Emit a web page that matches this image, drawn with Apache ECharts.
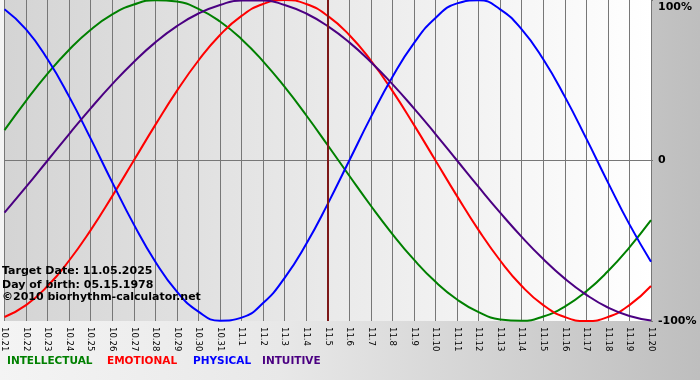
<!DOCTYPE html>
<html>
<head>
<meta charset="utf-8">
<script src="https://cdn.jsdelivr.net/npm/echarts@6/dist/echarts.min.js"></script>
<style>html,body{margin:0;padding:0;}#c{width:700px;height:380px;}</style>
</head>
<body>
<div id="c"></div>
<script>
var dates = ['10.21','10.22','10.23','10.24','10.25','10.26','10.27','10.28','10.29','10.30','10.31',
  '11.1','11.2','11.3','11.4','11.5','11.6','11.7','11.8','11.9','11.10','11.11','11.12','11.13','11.14',
  '11.15','11.16','11.17','11.18','11.19','11.20'];
var intellectual = [18.9,37.2,54.1,69.0,81.5,91.0,97.2,99.9,99.0,94.5,86.6,75.6,61.8,45.8,28.2,9.5,-9.5,-28.2,-45.8,-61.8,-75.6,-86.6,-94.5,-99.0,-99.9,-97.2,-91.0,-81.5,-69.0,-54.1,-37.2];
var emotional = [-97.5,-90.1,-78.2,-62.3,-43.4,-22.2,0,22.2,43.4,62.3,78.2,90.1,97.5,100,97.5,90.1,78.2,62.3,43.4,22.2,0,-22.2,-43.4,-62.3,-78.2,-90.1,-97.5,-100,-97.5,-90.1,-78.2];
var physical = [94.2,81.7,63.1,39.8,13.6,-13.6,-39.8,-63.1,-81.7,-94.2,-99.8,-97.9,-88.8,-73.1,-52.0,-27.0,0,27.0,52.0,73.1,88.8,97.9,99.8,94.2,81.7,63.1,39.8,13.6,-13.6,-39.8,-63.1];
var intuitive = [-32.5,-16.5,0,16.5,32.5,47.6,61.4,73.6,83.7,91.6,96.9,99.7,99.7,96.9,91.6,83.7,73.6,61.4,47.6,32.5,16.5,0,-16.5,-32.5,-47.6,-61.4,-73.6,-83.7,-91.6,-96.9,-99.7];
var yTicks = [-100, 0, 100];
var targetDate = '11.5';
var infoLines = ['Target Date: 11.05.2025', 'Day of birth: 05.15.1978', '\u00a92010 biorhythm-calculator.net'];
var legendNames = ['INTELLECTUAL', 'EMOTIONAL', 'PHYSICAL', 'INTUITIVE'];

var colors = ['#008000', '#ff0000', '#0000ff', '#4b0082'];
var seriesData = [intellectual, emotional, physical, intuitive];

var chart = echarts.init(document.getElementById('c'), null, {renderer: 'canvas'});

var series = seriesData.map(function (d, i) {
  return {
    name: legendNames[i],
    type: 'line',
    data: d,
    smooth: true,
    showSymbol: false,
    symbol: 'none',
    lineStyle: {color: colors[i], width: 2},
    itemStyle: {color: colors[i]},
    z: 3 + i,
    animation: false
  };
});
series[3].markLine = {
  silent: true,
  symbol: 'none',
  label: {show: false},
  lineStyle: {color: '#7d1818', width: 2, type: 'solid'},
  data: [{xAxis: targetDate}],
  z: 20,
  animation: false
};

var legendX = [7, 107, 193, 262];
var graphics = [];
infoLines.forEach(function (t, i) {
  graphics.push({
    type: 'text', left: 2, top: [266, 280, 292][i], z: 50,
    style: {text: t, font: 'bold 11px "DejaVu Sans"', fill: '#000'}
  });
});
legendNames.forEach(function (t, i) {
  graphics.push({
    type: 'text', left: legendX[i], top: 356, z: 50,
    style: {text: t, font: 'bold 10.5px "DejaVu Sans"', fill: colors[i]}
  });
});

chart.setOption({
  animation: false,
  backgroundColor: {type: 'linear', x: 0, y: 0, x2: 1, y2: 0,
    colorStops: [{offset: 0, color: '#f4f4f4'}, {offset: 0.4, color: '#e8e8e8'}, {offset: 1, color: '#bebebe'}]},
  grid: {
    left: 1, right: 49, top: 0, bottom: 59,
    show: true, borderWidth: 0,
    backgroundColor: {type: 'linear', x: 0, y: 0, x2: 1, y2: 0,
      colorStops: [{offset: 0, color: '#d4d4d4'}, {offset: 1, color: '#ffffff'}]}
  },
  xAxis: {
    type: 'category',
    data: dates,
    boundaryGap: false,
    axisLine: {show: false},
    axisTick: {show: true, length: 5, alignWithLabel: true, lineStyle: {color: '#777'}},
    splitLine: {show: true, lineStyle: {color: '#777', width: 1}},
    axisLabel: {
      interval: 0, rotate: -90, margin: 6,
      fontFamily: 'DejaVu Sans', fontSize: 8.5, color: '#000'
    }
  },
  yAxis: {
    type: 'value',
    position: 'right',
    min: yTicks[0], max: yTicks[2], interval: 100,
    axisLine: {show: false},
    axisTick: {show: true, length: 2, lineStyle: {color: '#777'}},
    splitLine: {show: true, lineStyle: {color: ['transparent', '#777', 'transparent'], width: 1}},
    axisLabel: {
      margin: 7,
      fontFamily: 'DejaVu Sans', fontWeight: 'bold', fontSize: 11, color: '#000',
      formatter: function (v) {
        if (v === 0) return '0';
        if (v === 100) return '{t|100%}';
        return v + '%';
      },
      rich: {t: {padding: [14, 0, 0, 0], fontFamily: 'DejaVu Sans', fontWeight: 'bold', fontSize: 11, color: '#000'}}
    }
  },
  graphic: graphics,
  series: series
});
</script>
</body>
</html>
